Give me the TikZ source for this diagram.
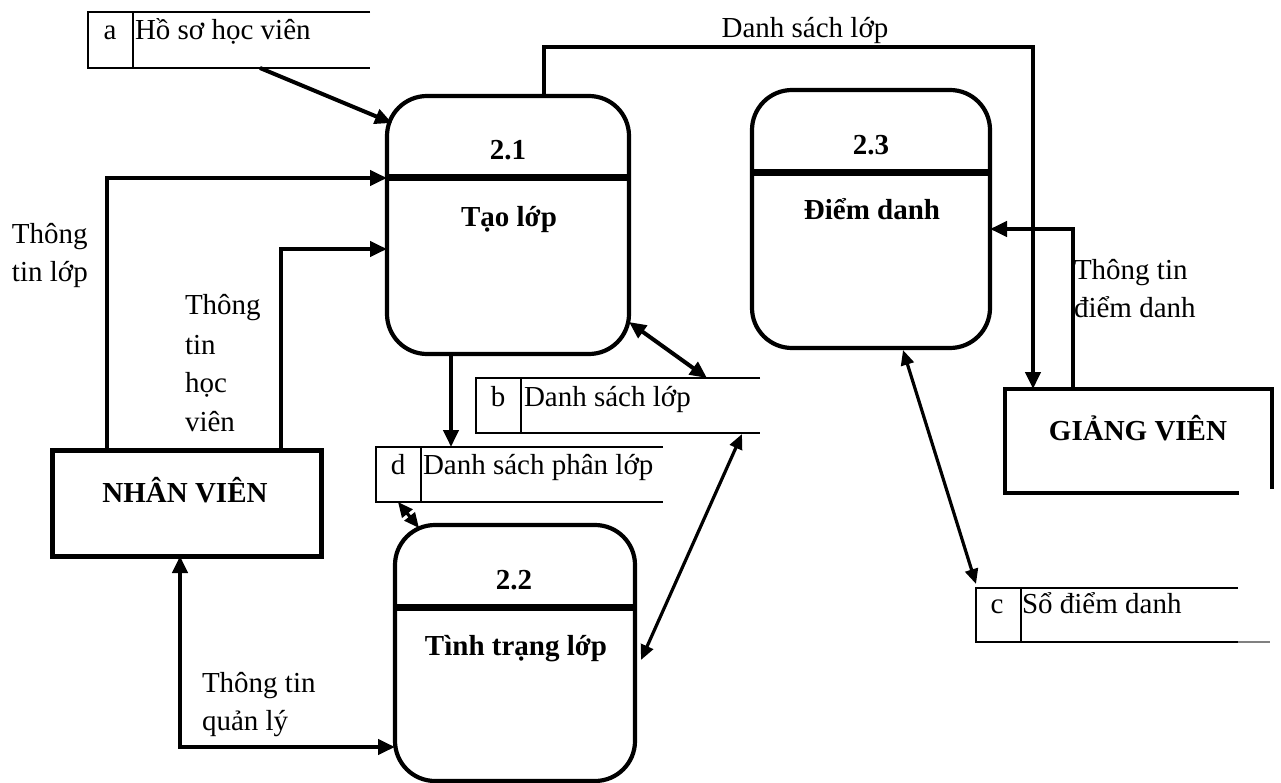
\documentclass[tikz,border=0pt]{standalone}
\usepackage{fontspec}
\setmainfont{Liberation Serif}
\usetikzlibrary{arrows.meta}

\tikzset{
  proc/.style={draw, line width=4.2pt, rounded corners=40pt, inner sep=0pt, outer sep=0pt},
  entity/.style={draw, line width=5pt, inner sep=0pt, outer sep=0pt},
  area/.style={inner sep=0pt, outer sep=0pt},
  divider/.style={line width=7pt},
  storeline/.style={line width=2.3pt},
  flow/.style={line width=4pt, -{Triangle[length=17pt,width=15pt]}},
  flow2/.style={line width=4pt, {Triangle[length=17pt,width=15pt]}-{Triangle[length=17pt,width=15pt]}},
  thinflow2/.style={line width=3.2pt, {Triangle[length=15pt,width=13pt]}-{Triangle[length=15pt,width=13pt]}},
  txt/.style={inner sep=0pt, outer sep=0pt, font=\fontsize{29}{36}\selectfont},
  btxt/.style={inner sep=0pt, outer sep=0pt, font=\fontsize{29}{36}\selectfont\bfseries, anchor=base},
}

\begin{document}
\begin{tikzpicture}[x=1pt, y=-1pt]
\useasboundingbox (0,0) rectangle (1281,783);

% ---------- processes ----------
\node[proc, minimum width=242pt, minimum height=258pt] (p21) at (508,225) {};
\node[proc, minimum width=238pt, minimum height=258pt] (p23) at (871,219) {};
\node[proc, minimum width=240pt, minimum height=256pt] (p22) at (515,653) {};
\draw[divider] ([shift={(0,82)}]p21.north west) -- ([shift={(0,82)}]p21.north east);
\draw[divider] ([shift={(0,83)}]p23.north west) -- ([shift={(0,83)}]p23.north east);
\draw[divider] ([shift={(0,82)}]p22.north west) -- ([shift={(0,82)}]p22.north east);
\node[btxt] (n21) at (508,160) {2.1};
\node[btxt] (t21) at (509,227) {Tạo lớp};
\node[btxt] (n23) at (871,155) {2.3};
\node[btxt] (t23) at (872,220) {Điểm danh};
\node[btxt] (n22) at (514,589) {2.2};
\node[btxt] (t22) at (516,655) {Tình trạng lớp};

% ---------- external entities ----------
\node[entity, minimum width=269pt, minimum height=106pt] (nv) at (186.5,503) {};
\node[btxt] (nvt) at (185,502) {NHÂN VIÊN};

\node[area, minimum width=267pt, minimum height=104pt] (gv) at (1138.5,441) {};
\draw[line width=4.5pt, line cap=rect] ([shift={(0,98)}]gv.north east) -- (gv.north east) -- (gv.north west)
  -- (gv.south west) -- ([shift={(-35,0)}]gv.south east);
\node[btxt] (gvt) at (1138,440) {GIẢNG VIÊN};

% ---------- data stores ----------
\node[area, minimum width=282pt, minimum height=56pt] (sa) at (229,40) {};
\node[area, minimum width=284pt, minimum height=55pt] (sb) at (618,405.5) {};
\node[area, minimum width=287pt, minimum height=55pt] (sd) at (519.5,474.5) {};
\node[area, minimum width=262pt, minimum height=54pt] (sc) at (1107,615) {};
\foreach \s in {sa,sb,sd,sc}{
  \draw[storeline] (\s.north east) -- (\s.north west) -- (\s.south west) -- (\s.south east);
  \draw[storeline] ([shift={(45,0)}]\s.north west) -- ([shift={(45,0)}]\s.south west);
}
\draw[line width=1.5pt, gray] (sc.south east) -- ([shift={(32,0)}]sc.south east);

\node[txt, anchor=base] (la) at (110,40) {a};
\node[txt, anchor=base west] (ta) at (135,40) {Hồ sơ học viên};
\node[txt, anchor=base] (lb) at (498,406) {b};
\node[txt, anchor=base west] (tb) at (524,406) {Danh sách lớp};
\node[txt, anchor=base] (ld) at (398,474) {d};
\node[txt, anchor=base west] (td) at (423,474) {Danh sách phân lớp};
\node[txt, anchor=base] (lc) at (997,613) {c};
\node[txt, anchor=base west] (tc) at (1022,613) {Sổ điểm danh};

% ---------- data flows ----------
\draw[flow] ([shift={(172,56)}]sa.north west) -- ([shift={(5,27)}]p21.north west);
\draw[flow] ([shift={(55,0)}]nv.north west) |- ([shift={(0,82)}]p21.north west);
\draw[flow] ([shift={(229,0)}]nv.north west) |- ([shift={(0,153)}]p21.north west);
\draw[flow2] ([shift={(128,0)}]nv.south west) |- ([shift={(0,222)}]p22.north west);
\draw[flow] ([shift={(64,0)}]p21.south west) -- ([shift={(75,0)}]sd.north west);
\draw[flow2] ([shift={(0,-32)}]p21.south east) -- ([shift={(231,0)}]sb.north west);
\draw[thinflow2] ([shift={(22,0)}]sd.south west) -- ([shift={(24,3)}]p22.north west);
\draw[thinflow2] ([shift={(266,1)}]sb.south west) -- ([shift={(6,135)}]p22.north east);
\draw[thinflow2] ([shift={(151,2)}]p23.south west) -- ([shift={(0,-4)}]sc.north west);
\draw[flow] ([shift={(157,0)}]p21.north west) -- ++(0,-49) -| ([shift={(28,0)}]gv.north west);
\draw[flow] ([shift={(68,0)}]gv.north west) |- ([shift={(0,139)}]p23.north east);

% ---------- flow labels ----------
\node[txt, anchor=base] (ldsl) at (805,38) {Danh sách lớp};
\node[txt, anchor=base west] (ltl1) at (12,244) {Thông};
\node[txt, anchor=base west] (ltl2) at (12,282) {tin lớp};
\node[txt, anchor=base west] (lhv1) at (185,315) {Thông};
\node[txt, anchor=base west] (lhv2) at (185,354) {tin};
\node[txt, anchor=base west] (lhv3) at (185,392) {học};
\node[txt, anchor=base west] (lhv4) at (185,431) {viên};
\node[txt, anchor=base west] (lql1) at (202,692) {Thông tin};
\node[txt, anchor=base west] (lql2) at (202,730) {quản lý};
\node[txt, anchor=base west] (ldd1) at (1074,280) {Thông tin};
\node[txt, anchor=base west] (ldd2) at (1074,317) {điểm danh};
\end{tikzpicture}
\end{document}
